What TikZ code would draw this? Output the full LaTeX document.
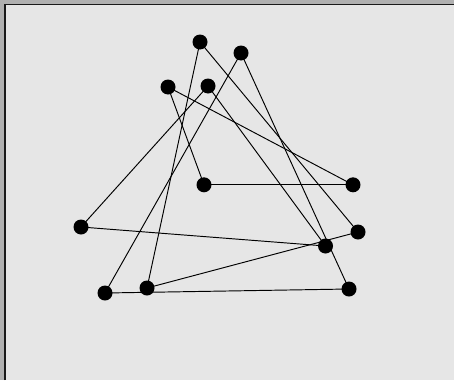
\documentclass[tikz,border=0pt]{standalone}
\definecolor{bgc}{RGB}{230,230,230}
\definecolor{stripc}{RGB}{176,176,176}
\definecolor{framec}{RGB}{25,25,25}
\begin{document}
\begin{tikzpicture}[x=1pt,y=-1pt,
  dot/.style={circle,fill=black,inner sep=0pt,minimum size=15pt},
  edge/.style={draw=black,line width=0.95pt}]
\useasboundingbox (0,0) rectangle (454,380);
\fill[stripc] (0,0) rectangle (454,380);
\fill[bgc] (5,4.5) rectangle (454,380);
\draw[framec,line width=1.5pt] (5,380) -- (5,4.5) -- (454,4.5);
\node[dot] (A) at (200,42) {};
\node[dot] (B) at (241,53) {};
\node[dot] (C) at (168,87) {};
\node[dot] (D) at (208,86) {};
\node[dot] (E) at (204,184.8) {};
\node[dot] (F) at (353,184.8) {};
\node[dot] (G) at (81,227) {};
\node[dot] (H) at (358,232) {};
\node[dot] (I) at (325.5,246) {};
\node[dot] (J) at (105,293) {};
\node[dot] (K) at (147,288) {};
\node[dot] (L) at (349,289) {};
\draw[edge] (A.center) -- (K.center);
\draw[edge] (A.center) -- (H.center);
\draw[edge] (B.center) -- (J.center);
\draw[edge] (B.center) -- (L.center);
\draw[edge] (C.center) -- (E.center);
\draw[edge] (C.center) -- (F.center);
\draw[edge] (D.center) -- (G.center);
\draw[edge] (D.center) -- (I.center);
\draw[edge] (E.center) -- (F.center);
\draw[edge] (G.center) -- (I.center);
\draw[edge] (K.center) -- (H.center);
\draw[edge] (J.center) -- (L.center);
\end{tikzpicture}
\end{document}
